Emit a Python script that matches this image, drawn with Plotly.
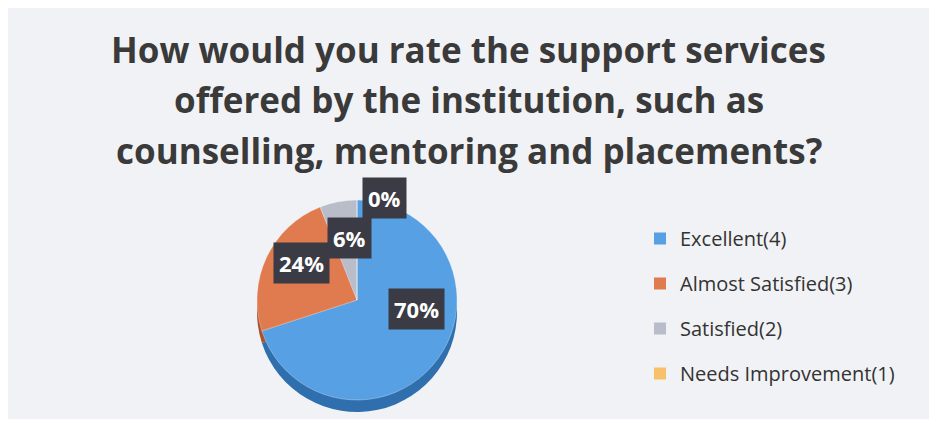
import math
import plotly.graph_objects as go

# ---- data ----
categories = ["Excellent(4)", "Almost Satisfied(3)", "Satisfied(2)", "Needs Improvement(1)"]
values = [70, 24, 6, 0]
colors = ["#56a0e3", "#e07b50", "#b9bdc9", "#f7c06a"]
side_colors = ["#2f6fae", "#a8532f", "#868a96", "#b88c40"]
title_lines = [
    "How would you rate the support services",
    "offered by the institution, such as",
    "counselling, mentoring and placements?",
]

# page body has an 8px margin; figure sized to fit inside the window
OFF = 8
W, H = 937 - 2 * OFF, 427 - 2 * OFF


def px2paper(x, y):
    return (x - OFF) / W, 1 - (y - OFF) / H


def domain(cx, cy, r):
    x0, y1 = px2paper(cx - r, cy - r)
    x1, y0 = px2paper(cx + r, cy + r)
    return dict(x=[x0, x1], y=[y0, y1])


cx_px, cy_px, r_px, depth = 357, 300, 100, 12

fig = go.Figure()
# side (depth) of the pie
fig.add_trace(go.Pie(
    labels=categories, values=values, sort=False, direction="clockwise", rotation=0,
    marker=dict(colors=side_colors, line=dict(width=0)),
    textinfo="none", hoverinfo="skip", showlegend=False,
    domain=domain(cx_px, cy_px + depth, r_px),
))
# top face
fig.add_trace(go.Pie(
    labels=categories, values=values, sort=False, direction="clockwise", rotation=0,
    marker=dict(colors=colors, line=dict(color="rgba(255,255,255,0.5)", width=0.6)),
    textinfo="none", hoverinfo="label+percent", showlegend=False,
    domain=domain(cx_px, cy_px, r_px),
))

# legend via dummy traces (for item spacing)
for cat, col in zip(categories, colors):
    fig.add_trace(go.Scatter(
        x=[None], y=[None], mode="markers", name=cat, legendgroup=cat,
        marker=dict(symbol="square", size=10, color=col), showlegend=True,
    ))

# data labels (placed on the tilted face of the 3D pie)
lcx, lcy, lrx, lry = 362, 282, 122, 82
total = sum(values)
cum = 0
for v in values:
    mid = (cum + v / 2) / total * 2 * math.pi
    cum += v
    k = 0.55 if v > 0 else 1.02
    lx = lcx + k * lrx * math.sin(mid)
    ly = lcy - k * lry * math.cos(mid)
    ax, ay = px2paper(lx, ly)
    fig.add_annotation(
        x=ax, y=ay, xref="paper", yref="paper",
        text=f"<b>{round(100 * v / total)}%</b>", showarrow=False,
        xanchor="center" if v > 0 else "left", yanchor="middle",
        font=dict(family="Open Sans", size=22, color="white"),
        bgcolor="#3b3b45", borderpad=5,
    )

# title lines
for i, line in enumerate(title_lines):
    tx, ty = px2paper(470, 50 + 50 * i)
    fig.add_annotation(
        x=0.5, y=ty, xref="paper", yref="paper",
        text=f"<b>{line}</b>", showarrow=False, xanchor="center", yanchor="middle",
        font=dict(family="Open Sans", size=35, color="#3a3a3a"),
    )

lgx, lgy = px2paper(640, 219)
fig.update_layout(
    width=W, height=H,
    margin=dict(l=0, r=0, t=0, b=0),
    paper_bgcolor="#f1f2f5", plot_bgcolor="rgba(0,0,0,0)",
    xaxis=dict(visible=False), yaxis=dict(visible=False),
    legend=dict(
        x=lgx, y=lgy, xanchor="left", yanchor="top",
        font=dict(family="Open Sans", size=20, color="#333333"),
        tracegroupgap=16, bgcolor="rgba(0,0,0,0)", itemsizing="constant",
    ),
    showlegend=True,
)

fig.write_html("out.html")
